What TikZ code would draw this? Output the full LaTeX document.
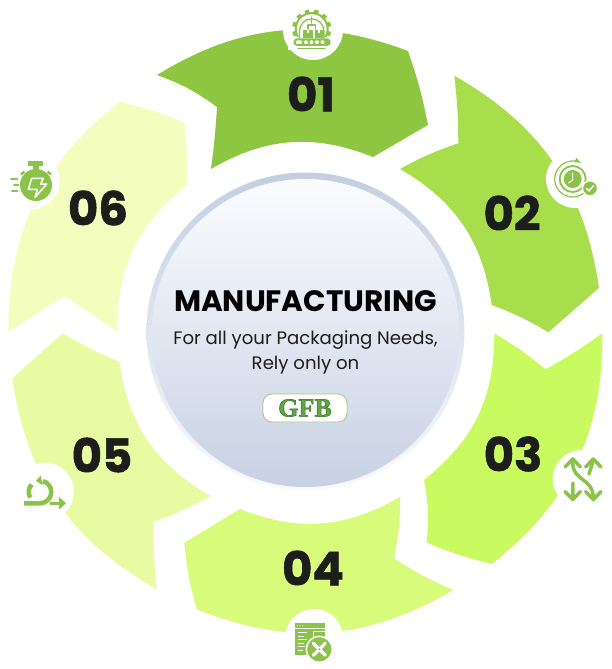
\documentclass[tikz,border=0pt]{standalone}
\usepackage{fontspec}
\setmainfont{Poppins}
\newfontfamily\numfont[BoldFeatures={FakeBold=1.2}]{Poppins}
\newfontfamily\logofont{Liberation Serif}
\usetikzlibrary{arrows}
\definecolor{segA}{HTML}{8DC641}
\definecolor{segB}{HTML}{A8DE4C}
\definecolor{segC}{HTML}{C9FB60}
\definecolor{segD}{HTML}{D8FB7C}
\definecolor{segE}{HTML}{E8FBA2}
\definecolor{segF}{HTML}{F2FDBE}
\definecolor{icongreen}{HTML}{8BC34A}
\definecolor{numink}{HTML}{1D1D1B}
\definecolor{ringtop}{HTML}{C3CFE1}
\definecolor{ringmid}{HTML}{E2E7F1}
\definecolor{ringbot}{HTML}{F8FAFE}
\definecolor{disctop}{HTML}{FBFCFF}
\definecolor{discmid}{HTML}{E6EAF4}
\definecolor{discbot}{HTML}{C8D1E3}
\definecolor{logoline}{HTML}{A4CC74}
\definecolor{logoink}{HTML}{5FA845}

\begin{document}
\begin{tikzpicture}[x=1pt, y=-1pt]

\tikzstyle{number}=[text=numink, font=\numfont\fontsize{46.5}{46}\selectfont\bfseries, inner sep=0pt]
\tikzstyle{iconbg}=[circle, fill=white, minimum size=58pt, inner sep=0pt]
\tikzstyle{title}=[text=black, font=\fontsize{29.5}{30}\selectfont\bfseries, inner sep=0pt]
\tikzstyle{body}=[text=numink, font=\fontsize{18.1}{19}\selectfont, inner sep=0pt]
\tikzstyle{badge}=[rectangle, rounded corners=9pt, draw=logoline, fill=white, line width=0.8pt, minimum width=84pt, minimum height=28pt, inner sep=0pt]
\tikzstyle{thick line}=[draw=icongreen, line width=3.5pt, line cap=round, line join=round]
\tikzstyle{thin line}=[draw=icongreen, line width=1.3pt, line cap=round, line join=round]
\tikzstyle{icon fill}=[fill=icongreen]

\useasboundingbox (0,0) rectangle (612,669);

% ring of arrows
\fill[segA] (157,75) to[bend left=26] (408,51) to[bend left=4] (428,125) -- (373,157) to[bend right=26] (211,169) to[bend right=2] (217,107) to[bend right=8] (157,75) -- cycle;
\fill[segB] (454.3,75.7) to[bend left=26] (599,288) -- (548.3,332.3) to[bend right=5] (491.7,305) to[bend right=26] (400,169) to[bend left=5] (458.3,143.3) to[bend right=3] (454.3,75.7) -- cycle;
\fill[segC] (494.3,333.3) to[bend left=4] (545.7,369.3) to[bend right=3] (602.3,333.3) to[bend left=26] (491.7,564) to[bend left=4] (426.7,542.7) to[bend right=8] (424,480) to[bend right=26] (494.3,333.3) -- cycle;
\fill[segD] (240,509) to[bend right=26] (400,496.7) to[bend left=6] (394,558.3) to[bend right=5] (453.3,590) to[bend left=26] (196.7,609.3) to[bend left=5] (184.3,542.7) -- cycle;
\fill[segE] (62.7,333.3) to[bend right=4] (119.3,361.7) to[bend right=26] (210.7,496) to[bend left=5] (153.3,521.7) to[bend right=3] (156.7,589.3) to[bend left=26] (12.3,378.3) -- cycle;
\fill[segF] (120,101.7) to[bend left=4] (184,122.3) to[bend left=5] (186.7,185) to[bend right=26] (117.3,331.7) -- (65,296) -- (8.3,331.7) to[bend left=26] (120,101.7) -- cycle;

% centre disc
\shade[top color=ringtop, middle color=ringmid, bottom color=ringbot] (305.5,331.5) circle (159);
\shade[top color=disctop, middle color=discmid, bottom color=discbot] (305.5,333) circle (154);

\node[title] (heading) at (305.5,301) {MANUFACTURING};
\node[body] (lineone) at (305.5,340) {For all your Packaging Needs,};
\node[body] (linetwo) at (305.5,365) {Rely only on};
\node[badge] (logo) at (305,408) {\logofont\fontsize{26}{26}\selectfont\bfseries\color{logoink}\special{pdf:code 2 Tr 0.5 w 0.18 0.42 0.13 RG}GFB\special{pdf:code 0 Tr}};

\node[number] (numA) at (311,94) {01};
\node[number] (numB) at (512,213) {02};
\node[number] (numC) at (513,454) {03};
\node[number] (numD) at (313,568) {04};
\node[number] (numE) at (102,455) {05};
\node[number] (numF) at (98,208) {06};

\node[iconbg, minimum size=60pt] (iconA) at (313,30) {};
\node[iconbg] (iconB) at (575,179) {};
\node[iconbg] (iconC) at (581.7,479) {};
\node[iconbg] (iconD) at (314,638) {};
\node[iconbg] (iconE) at (45,491.7) {};
\node[iconbg] (iconF) at (30.7,180.7) {};

% gear and conveyor
\foreach \a in {-195,-165,...,15} {
  \draw[icongreen, line width=4.5pt] (311.7,29) ++(\a:15) -- ++(\a:4.5);
}
\draw[icongreen, line width=2pt] (311.7,29) ++(30:16) arc[start angle=30, end angle=-210, radius=16];
\draw[thin line] (299.5,38) -- (299.5,31) arc[start angle=180, end angle=360, radius=12.2] -- (324,38);
\draw[thin line] (311.7,17) -- (311.7,23);
\draw[thin line] (308,29) -- (308,25) -- (315.4,25) -- (315.4,29);
\fill[icon fill] (303,30) rectangle (313,38.5);
\fill[icon fill] (314.5,30) rectangle (324,38.5);
\fill[white] (307,30.5) rectangle (309,33);
\fill[white] (318,30.5) rectangle (320,33);
\fill[white] (288,39) rectangle (336,50);
\fill[icon fill, rounded corners=3.8pt] (293.3,38.3) rectangle (330.7,46);
\fill[white, rounded corners=1pt] (296,40.5) rectangle (302,43.8);
\foreach \x in {306,311.5,317,322.5} {
  \fill[white] (\x,42.2) circle (2);
}
\draw[thin line] (298,48.6) -- (325,48.6);

% clock with check mark
\fill[icon fill] (572.7,179) circle (9);
\draw[thin line, line width=1.8pt] (572.7,179) circle (13);
\draw[thin line, line width=1.2pt, -latex] (572.7,179) ++(-335:18) arc[start angle=-335, end angle=-62, radius=18];
\draw[white, line width=1pt] (572.7,173) -- (572.7,180) -- (568.5,183);
\fill[icon fill, draw=white, line width=1.3pt] (590,188.3) circle (7.6);
\draw[white, line width=1.4pt] (586.4,188.3) -- (589,190.8) -- (593.8,185.6);

% crossing arrows
\draw[thick line] (572.7,460) -- (572.7,463) .. controls (572.7,481) and (593.3,478) .. (593.3,498);
\draw[thick line] (593.3,460) -- (589,474);
\draw[thick line] (572.7,498) -- (573,483);
\draw[thick line] (565,467) -- (572.7,459) -- (580.4,467);
\draw[thick line] (585.6,467) -- (593.3,459) -- (601,467);
\draw[thick line] (565,491.5) -- (572.7,499.5) -- (580.4,491.5);
\draw[thick line] (585.6,491.5) -- (593.3,499.5) -- (601,491.5);

% window with tools
\fill[icon fill] (295,623) rectangle (325,655);
\foreach \x in {297.5,300,302.5} {
  \fill[white] (\x,625.8) circle (0.6);
}
\draw[white, line width=0.6pt] (295,628.3) -- (325,628.3);
\draw[white, line width=1pt] (297.5,632.5) -- (307,632.5);
\draw[white, line width=1pt] (297.5,636) -- (304,636);
\draw[white, line width=1pt] (297.5,639.5) -- (307,639.5);
\draw[white, line width=1pt] (297.5,643) -- (304,643);
\draw[white, line width=1pt] (297.5,646.5) -- (305,646.5);
\draw[white, line width=1pt] (297.5,650) -- (303,650);
\draw[white, line width=1pt] (313,631) rectangle (325,637);
\fill[icon fill, draw=white, line width=1.5pt] (319.3,649.3) circle (13);
\draw[white, line width=3.2pt, line cap=round] (313.3,643.3) -- (325.3,655.3);
\draw[white, line width=3.2pt, line cap=round] (325.3,643.3) -- (313.3,655.3);
\fill[icon fill] (319.3,649.3) circle (1.2);

% loop arrow
\draw[icongreen, line width=4.5pt] (24,503.3) -- (40,503.3) arc[start angle=90, end angle=-75, radius=11.3];
\draw[icongreen, line width=4.5pt] (40,492) ++(150:11.3) arc[start angle=150, end angle=222, radius=11.3];
\fill[icon fill] (36,480.7) -- (40.7,476) -- (42.7,485.5) -- cycle;
\draw[icongreen, line width=3.5pt] (50,503.3) -- (60,503.3);
\fill[icon fill] (59,497) -- (66,503.3) -- (59,509.6) -- cycle;

% stopwatch
\fill[icon fill] (28.3,161) rectangle (43.3,165.5);
\fill[icon fill] (33,165) rectangle (39,171);
\draw[icongreen, line width=2.2pt] (21,174.5) -- (24.5,171.5);
\draw[icongreen, line width=2.2pt] (51,174.5) -- (47.5,171.5);
\fill[icon fill] (36,185) circle (16);
\draw[thick line, line width=2pt] (11,178.5) -- (17.5,178.5);
\draw[thick line, line width=2pt] (14,184.5) -- (18.5,184.5);
\draw[thick line, line width=2pt] (12,190.5) -- (17.5,190.5);
\draw[white, line width=1.5pt, line join=round] (31.7,178.3) -- (43.3,178.3) -- (40.7,184) -- (46.7,184) -- (35,197.3) -- (37.3,189.3) -- (28.3,189.3) -- cycle;

\end{tikzpicture}
\end{document}
